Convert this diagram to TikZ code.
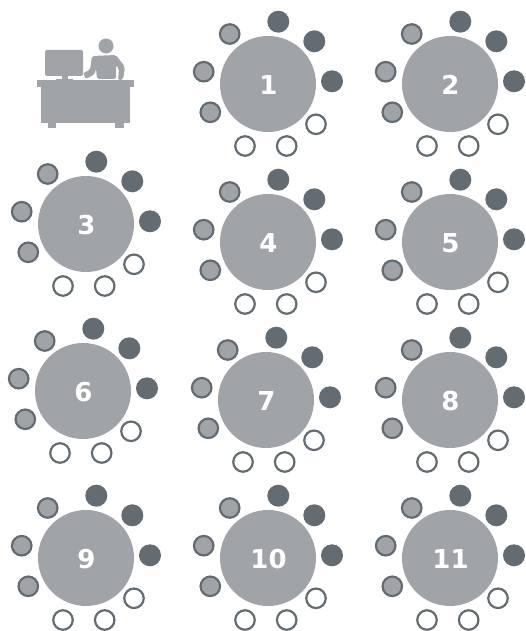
\documentclass[tikz,border=0pt]{standalone}
\usepackage{fontspec}
\setmainfont[LetterSpace=1]{DejaVu Sans}
\usepackage{tikz}
\usetikzlibrary{positioning, calc}
\definecolor{tablegray}{HTML}{A0A4A8}
\definecolor{seatdark}{HTML}{636C73}
\tikzset{
    tablenode/.style={circle, fill=tablegray, minimum size=96pt, inner sep=0pt},
    tablenum/.style={text=white, font=\fontsize{26}{26}\selectfont\bfseries, inner sep=0pt},
    takenseat/.style={circle, fill=seatdark, minimum size=22pt, inner sep=0pt},
    heldseat/.style={circle, draw=seatdark, line width=2.2pt, fill=tablegray, minimum size=19.5pt, inner sep=0pt},
    freeseat/.style={circle, draw=seatdark, line width=2.2pt, fill=white, minimum size=19.5pt, inner sep=0pt},
    deskpart/.style={fill=tablegray, draw=none}
}
\begin{document}
\begin{tikzpicture}[x=1pt, y=-1pt]
    \useasboundingbox (0,0) rectangle (525,631);
    % desk and clerk
    \fill[deskpart, rounded corners=1.5pt] (45,50) rectangle (83,76);
    \fill[deskpart] (62,76) rectangle (68,80);
    \fill[deskpart] (56,79) rectangle (73,81);
    \fill[deskpart] (37,80) rectangle (134,87);
    \fill[deskpart] (41,87) rectangle (130,123);
    \fill[deskpart] (48,123) rectangle (56,128);
    \fill[deskpart] (115,123) rectangle (124,128);
    \fill[deskpart] (106,46) circle (7.5);
    \fill[deskpart, rounded corners=2pt] (83,73) -- (90,70) -- (92,56) -- (116,55) -- (125,67) -- (123,80) -- (118,80) -- (119,69) -- (116,65) -- (116,79) -- (97,79) -- (96,68) -- (95,74) -- (86,79) -- cycle;
    % tables with their seats
    \foreach \n/\cx/\cy in {1/268/84, 2/450/84, 3/86/224, 4/268/242, 5/450/242, 6/83/391, 7/266/400, 8/450/400, 9/86/558, 10/268/558, 11/450/558} {
        \node[tablenode] (t\n) at (\cx,\cy) {};
        \node[tablenum] (n\n) at (\cx+0.5,\cy+1) {\n};
        \node[takenseat] (t\n d1) at (\cx+10.3,\cy-62.3) {};
        \node[takenseat] (t\n d2) at (\cx+46.3,\cy-42.7) {};
        \node[takenseat] (t\n d3) at (\cx+64,\cy-2.7) {};
        \node[freeseat] (t\n f1) at (\cx+48,\cy+40.3) {};
        \node[freeseat] (t\n f2) at (\cx+18.7,\cy+62) {};
        \node[freeseat] (t\n f3) at (\cx-23,\cy+62) {};
        \node[heldseat] (t\n h1) at (\cx-57.7,\cy+28.3) {};
        \node[heldseat] (t\n h2) at (\cx-64.3,\cy-12.3) {};
        \node[heldseat] (t\n h3) at (\cx-38.3,\cy-50) {};
    }
\end{tikzpicture}
\end{document}
